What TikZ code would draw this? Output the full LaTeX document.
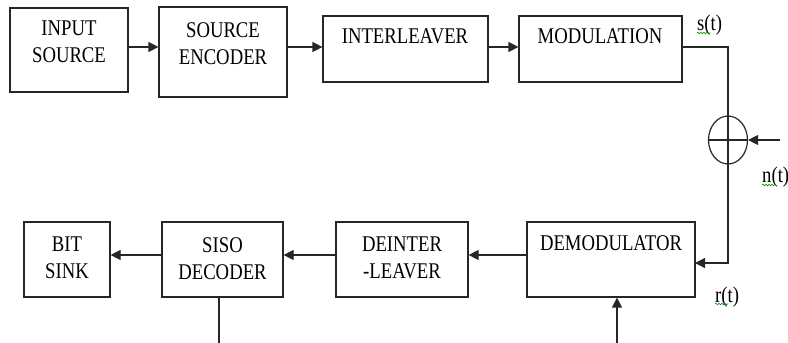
\documentclass[tikz,border=0pt]{standalone}
\usepackage{fontspec}
\setmainfont{Liberation Serif}
\usetikzlibrary{arrows.meta,shapes.geometric,decorations.pathmorphing}
\begin{document}
\begin{tikzpicture}[x=1pt,y=-1pt,
  blk/.style={draw=black!85,line width=1.2pt,rectangle,inner sep=0pt},
  lbl/.style={anchor=north,inner sep=0pt,align=center,
    font=\fontsize{18.7}{22.5}\selectfont,yscale=1.2,transform shape},
  sig/.style={anchor=north west,inner sep=0pt,
    font=\fontsize{18.7}{22.5}\selectfont,yscale=1.2,transform shape},
  wire/.style={draw=black!85,line width=1.2pt},
  arr/.style={wire,-{Triangle[length=10pt,width=10pt]}},
  squig/.style={draw=green!55!black,line width=0.6pt,
    decorate,decoration={snake,segment length=3pt,amplitude=0.8pt}}]
\useasboundingbox (0,0) rectangle (788,343);

% transmitter chain
\node[blk,minimum width=118,minimum height=84] (src) at (69,50) {};
\node[blk,minimum width=128,minimum height=90] (enc) at (223,52) {};
\node[blk,minimum width=165,minimum height=66] (ilv) at (405.5,49) {};
\node[blk,minimum width=163,minimum height=66] (mod) at (600.5,49) {};

\node[lbl] (tsrc) at (69,21) {INPUT\\SOURCE};
\node[lbl] (tenc) at (223,22) {SOURCE\\ENCODER};
\node[lbl] (tilv) at (405,28) {INTERLEAVER};
\node[lbl] (tmod) at (600,28) {MODULATION};

% receiver chain
\node[blk,minimum width=168,minimum height=75] (dem) at (611,259.5) {};
\node[blk,minimum width=132,minimum height=75] (dil) at (402,259.5) {};
\node[blk,minimum width=121,minimum height=75] (dec) at (222.5,259.5) {};
\node[blk,minimum width=86,minimum height=75] (snk) at (67,259.5) {};

\node[lbl] (tdem) at (611,235) {DEMODULATOR};
\node[lbl] (tdil) at (402,237) {DEINTER\\-LEAVER};
\node[lbl] (tdec) at (222.5,237) {SISO\\DECODER};
\node[lbl] (tsnk) at (67,237) {BIT\\SINK};

% noise adder
\node[draw=black!85,line width=1.2pt,ellipse,minimum width=39,minimum height=48,inner sep=0pt] (sum) at (728,140) {};

% free ends
\coordinate (nin) at (780,140);
\coordinate (decout) at (219,343);
\coordinate (demin) at (617,343);
\coordinate (rin) at (695,263);

% forward connectors
\draw[arr] (src.east |- 0,47) -- (enc.west |- 0,47);
\draw[arr] (enc.east |- 0,47) -- (ilv.west |- 0,47);
\draw[arr] (ilv.east |- 0,47) -- (mod.west |- 0,47);
\draw[wire] (mod.east |- 0,47) -| (sum.north);
\draw[wire] (sum.north) -- (sum.south);
\draw[wire] (sum.west) -- (sum.east);
\draw[arr] (nin) -- (sum.east);
\draw[arr] (sum.south) |- (rin);
\draw[arr] (dem.west |- 0,255) -- (dil.east |- 0,255);
\draw[arr] (dil.west |- 0,255) -- (dec.east |- 0,255);
\draw[arr] (dec.west |- 0,255) -- (snk.east |- 0,255);
\draw[wire] (dec.south -| decout) -- (decout);
\draw[arr] (demin) -- (dem.south -| demin);

% signal labels
\node[sig] (st) at (697,15) {s(t)};
\node[sig] (nt) at (762,167) {n(t)};
\node[sig] (rt) at (715,287) {r(t)};
\draw[squig] (697,33) -- (710,33);
\draw[squig] (762,185) -- (776,185);
\draw[squig] (715,304) -- (728,304);
\end{tikzpicture}
\end{document}
